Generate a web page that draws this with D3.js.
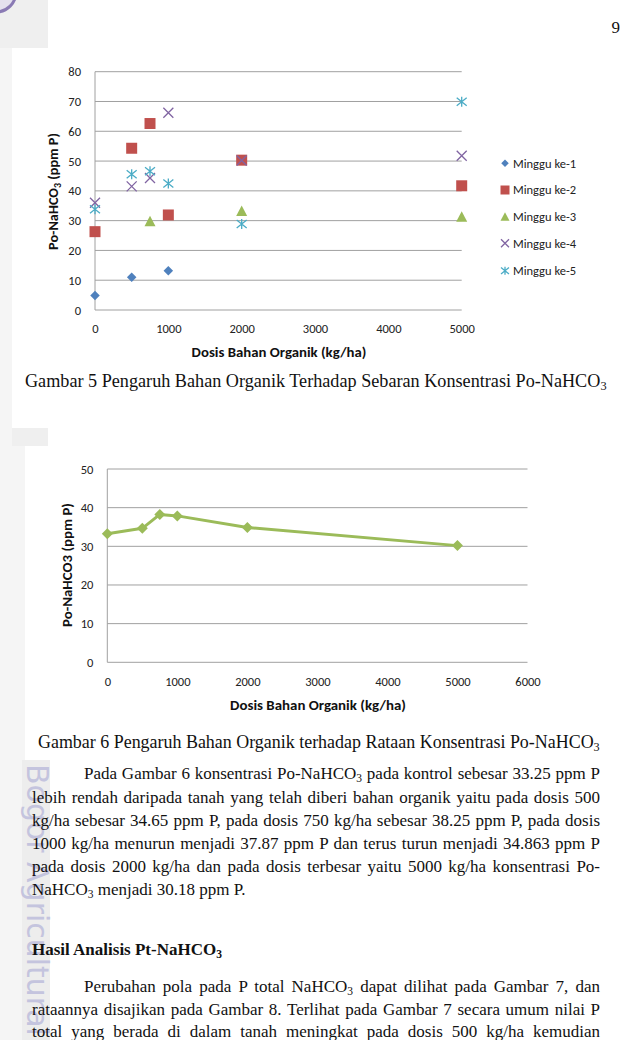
<!DOCTYPE html>
<html><head><meta charset="utf-8">
<script src="https://cdn.jsdelivr.net/npm/d3@7"></script>
<style>
body{margin:0;background:#fff;width:624px;height:1040px;position:relative;overflow:hidden}
svg{display:block;position:absolute;left:0;top:0}
.ln{position:absolute;font-family:'Liberation Serif','Times New Roman',serif;font-size:17px;line-height:17px;color:#111;white-space:nowrap}
.j{text-align:justify;text-align-last:justify;white-space:normal}
sub{font-size:11.5px;line-height:0;vertical-align:-3px}
</style>
</head><body>
<svg id="page" width="624" height="1040"></svg>
<div id="txt"></div>
<script>
// ---------------- DATA ----------------
const seriesNames = ["Minggu ke-1","Minggu ke-2","Minggu ke-3","Minggu ke-4","Minggu ke-5"];
const week1 = [[0,4.9],[500,11.0],[1000,13.2]];
const week2 = [[0,26.3],[500,54.3],[750,62.6],[1000,31.9],[2000,50.3],[5000,41.7]];
const week3 = [[750,29.8],[2000,33.2],[5000,31.3]];
const week4 = [[0,36.0],[500,41.5],[750,44.3],[1000,66.2],[2000,50.2],[5000,51.8]];
const week5 = [[0,33.8],[500,45.6],[750,46.6],[1000,42.5],[2000,28.9],[5000,69.9]];
const meanDoses = [0,500,750,1000,2000,5000];
const meanValues = [33.25,34.65,38.25,37.87,34.863,30.18];
const xTicks1 = [0,1000,2000,3000,4000,5000];
const yTicks1 = [0,10,20,30,40,50,60,70,80];
const xTicks2 = [0,1000,2000,3000,4000,5000,6000];
const yTicks2 = [0,10,20,30,40,50];

// ---------------- STYLE ----------------
const sansFont = "Carlito, Calibri, Lato, 'Open Sans', sans-serif";
const serifFont = "'Liberation Serif', 'Times New Roman', serif";
const colors = ["#4f81bd","#c0504d","#9bbb59","#8064a2","#4bacc6"];
const shapes = ["diamond","square","triangle","cross","star"];
const gridColor = "#a0a0a0";
const tickFont = 12.5;

function markerPath(type, s){
  const h = s/2;
  switch(type){
    case "diamond": return `M0,${-h}L${h},0L0,${h}L${-h},0Z`;
    case "square": return `M${-h},${-h}H${h}V${h}H${-h}Z`;
    case "triangle": return `M0,${-h}L${h},${h*0.9}L${-h},${h*0.9}Z`;
    case "cross": return `M${-h},${-h}L${h},${h}M${-h},${h}L${h},${-h}`;
    case "star": return `M${-h},${-h*0.8}L${h},${h*0.8}M${-h},${h*0.8}L${h},${-h*0.8}M0,${-h}V${h}`;
  }
}
function drawMarker(g, type, color, s){
  const p = g.append("path").attr("d", markerPath(type, s));
  if (type==="cross"||type==="star") p.attr("fill","none").attr("stroke",color).attr("stroke-width",1.3);
  else p.attr("fill",color);
  return p;
}
function fitWidth(t, target){
  const len = t.node().getComputedTextLength();
  const fs = parseFloat(t.attr("font-size"));
  t.attr("font-size", fs*target/len);
}

const svg = d3.select("#page");

// ---------------- PAGE BACKGROUND (scan artefacts) ----------------
svg.append("rect").attr("width",624).attr("height",1040).attr("fill","#fff");
svg.append("rect").attr("x",0).attr("y",0).attr("width",12).attr("height",1040).attr("fill","#f5f5f5");
svg.append("rect").attr("x",0).attr("y",0).attr("width",48).attr("height",48).attr("fill","#efefef");
svg.append("circle").attr("cx",-4).attr("cy",-8).attr("r",20).attr("fill","#e4e0ee").attr("stroke","#8a7ab4").attr("stroke-width",3);
svg.append("rect").attr("x",12).attr("y",428).attr("width",36).attr("height",18).attr("fill","#efefef");
svg.append("rect").attr("x",12).attr("y",446).attr("width",13).attr("height",594).attr("fill","#f5f5f5");
svg.append("rect").attr("x",22).attr("y",760).attr("width",28).attr("height",280).attr("fill","#ededed");
const wm = svg.append("text").attr("transform","translate(27,764) rotate(90)")
  .attr("font-family","'DejaVu Sans', sans-serif").attr("font-size",24)
  .attr("fill","#c4c4de").text("Bogor Agricultural");
fitWidth(wm, 272);

// page number
svg.append("text").attr("x",620).attr("y",33).attr("text-anchor","end")
  .attr("font-family",serifFont).attr("font-size",17).attr("fill","#111").text("9");

// ---------------- CHART 1 ----------------
const x1 = d3.scaleLinear().domain([0,5000]).range([95,461.7]);
const y1 = d3.scaleLinear().domain([0,80]).range([310,71.7]);
const c1 = svg.append("g");
c1.append("g").selectAll("line").data(yTicks1).join("line")
  .attr("x1",x1(0)).attr("x2",x1(5000)).attr("y1",d=>y1(d)).attr("y2",d=>y1(d))
  .attr("stroke",gridColor).attr("stroke-width",1);
c1.append("line").attr("x1",x1(0)).attr("x2",x1(0)).attr("y1",y1(80)).attr("y2",y1(0))
  .attr("stroke",gridColor).attr("stroke-width",1);

const ax1y = c1.append("g").attr("transform",`translate(${x1(0)},0)`)
  .call(d3.axisLeft(y1).tickValues(yTicks1).tickSize(0).tickPadding(14));
const ax1x = c1.append("g").attr("transform",`translate(0,${y1(0)})`)
  .call(d3.axisBottom(x1).tickValues(xTicks1).tickSize(0).tickFormat(d3.format("d")));
[ax1y, ax1x].forEach(a=>{a.select(".domain").remove();
  a.selectAll("text").attr("font-family",sansFont).attr("font-size",tickFont).attr("fill","#222");});
ax1x.selectAll("text").attr("y",19).attr("dy","0.35em");

const allWeeks = [week1,week2,week3,week4,week5];
allWeeks.forEach((ser,i)=>{
  const size = [9.5,11,11,10,10][i];
  const g = c1.append("g");
  ser.forEach(d=>{
    const m = g.append("g").attr("transform",`translate(${x1(d[0])},${y1(d[1])})`);
    drawMarker(m, shapes[i], colors[i], size);
  });
});

// axis titles chart 1
const t1x = c1.append("text").attr("x",279).attr("y",357).attr("text-anchor","middle")
  .attr("font-family",sansFont).attr("font-weight","bold").attr("font-size",12.5).attr("fill","#111")
  .text("Dosis Bahan Organik (kg/ha)");
fitWidth(t1x,175);
const t1y = c1.append("text").attr("transform","translate(57.5,191.5) rotate(-90)").attr("text-anchor","middle")
  .attr("font-family",sansFont).attr("font-weight","bold").attr("font-size",12.5).attr("fill","#111");
t1y.append("tspan").text("Po-NaHCO");
t1y.append("tspan").attr("font-size","0.7em").attr("dy",3).text("3");
t1y.append("tspan").attr("dy",-3).text(" (ppm P)");
fitWidth(t1y,117);

// legend
const legY = [163.3,190,216.7,243.3,270.7];
seriesNames.forEach((n,i)=>{
  const g = c1.append("g").attr("transform",`translate(505,${legY[i]})`);
  drawMarker(g, shapes[i], colors[i], [7.5,9,9,8,8][i]);
  g.append("text").attr("x",8).attr("dy","0.35em").attr("font-family",sansFont)
    .attr("font-size",tickFont).attr("fill","#222").text(n);
});

// caption 5
const cap5 = svg.append("text").attr("x",25).attr("y",387).attr("font-family",serifFont)
  .attr("font-size",17).attr("fill","#111");
cap5.append("tspan").text("Gambar 5 Pengaruh Bahan Organik Terhadap Sebaran Konsentrasi Po-NaHCO");
cap5.append("tspan").attr("font-size","0.68em").attr("dy",3).text("3");
fitWidth(cap5,582);

// ---------------- CHART 2 ----------------
const x2 = d3.scaleLinear().domain([0,6000]).range([107.3,527.5]);
const y2 = d3.scaleLinear().domain([0,50]).range([662.3,469]);
const c2 = svg.append("g");
c2.append("g").selectAll("line").data(yTicks2).join("line")
  .attr("x1",x2(0)).attr("x2",x2(6000)).attr("y1",d=>y2(d)).attr("y2",d=>y2(d))
  .attr("stroke",gridColor).attr("stroke-width",1);
c2.append("line").attr("x1",x2(0)).attr("x2",x2(0)).attr("y1",y2(50)).attr("y2",y2(0))
  .attr("stroke",gridColor).attr("stroke-width",1);
const ax2y = c2.append("g").attr("transform",`translate(${x2(0)},0)`)
  .call(d3.axisLeft(y2).tickValues(yTicks2).tickSize(0).tickPadding(14));
const ax2x = c2.append("g").attr("transform",`translate(0,${y2(0)})`)
  .call(d3.axisBottom(x2).tickValues(xTicks2).tickSize(0).tickFormat(d3.format("d")));
[ax2y, ax2x].forEach(a=>{a.select(".domain").remove();
  a.selectAll("text").attr("font-family",sansFont).attr("font-size",tickFont).attr("fill","#222");});
ax2x.selectAll("text").attr("y",19.4).attr("dy","0.35em");

const meanData = meanDoses.map((d,i)=>[d,meanValues[i]]);
c2.append("path").datum(meanData)
  .attr("d", d3.line().x(d=>x2(d[0])).y(d=>y2(d[1])))
  .attr("fill","none").attr("stroke","#9bbb59").attr("stroke-width",3).attr("stroke-linejoin","round");
meanData.forEach(d=>{
  const m = c2.append("g").attr("transform",`translate(${x2(d[0])},${y2(d[1])})`);
  drawMarker(m,"diamond","#9bbb59",11);
});

const t2x = c2.append("text").attr("x",318).attr("y",709.5).attr("text-anchor","middle")
  .attr("font-family",sansFont).attr("font-weight","bold").attr("font-size",12.5).attr("fill","#111")
  .text("Dosis Bahan Organik (kg/ha)");
fitWidth(t2x,176);
const t2y = c2.append("text").attr("transform","translate(71.5,565) rotate(-90)").attr("text-anchor","middle")
  .attr("font-family",sansFont).attr("font-weight","bold").attr("font-size",12.5).attr("fill","#111")
  .text("Po-NaHCO3 (ppm P)");
fitWidth(t2y,124);

// caption 6
const cap6 = svg.append("text").attr("x",38).attr("y",748).attr("font-family",serifFont)
  .attr("font-size",17).attr("fill","#111");
cap6.append("tspan").text("Gambar 6 Pengaruh Bahan Organik terhadap Rataan Konsentrasi Po-NaHCO");
cap6.append("tspan").attr("font-size","0.68em").attr("dy",3).text("3");
fitWidth(cap6,562);

// ---------------- BODY TEXT ----------------
const lines = [
  {y:775, x:84, w:516, j:true, h:"Pada Gambar 6 konsentrasi Po-NaHCO<sub>3</sub> pada kontrol sebesar 33.25 ppm P"},
  {y:799, x:32, w:568, j:true, h:"lebih rendah daripada tanah yang telah diberi bahan organik yaitu pada dosis 500"},
  {y:822, x:32, w:568, j:true, h:"kg/ha sebesar 34.65 ppm P, pada dosis 750 kg/ha sebesar 38.25 ppm P, pada dosis"},
  {y:845, x:32, w:568, j:true, h:"1000 kg/ha menurun menjadi 37.87 ppm P dan terus turun menjadi 34.863 ppm P"},
  {y:868, x:32, w:568, j:true, h:"pada dosis 2000 kg/ha dan pada dosis terbesar yaitu 5000 kg/ha konsentrasi Po-"},
  {y:891, x:32, w:568, j:false, h:"NaHCO<sub>3</sub> menjadi 30.18 ppm P."},
  {y:951, x:32, w:568, j:false, h:"<b>Hasil Analisis Pt-NaHCO<sub>3</sub></b>"},
  {y:988, x:84, w:516, j:true, h:"Perubahan pola pada P total NaHCO<sub>3</sub> dapat dilihat pada Gambar 7, dan"},
  {y:1011, x:32, w:568, j:true, h:"rataannya disajikan pada Gambar 8. Terlihat pada Gambar 7 secara umum nilai P"},
  {y:1033, x:32, w:568, j:true, h:"total yang berada di dalam tanah meningkat pada dosis 500 kg/ha kemudian"}
];
d3.select("#txt").selectAll("div").data(lines).join("div")
  .attr("class",d=>"ln"+(d.j?" j":""))
  .style("left",d=>d.x+"px").style("top",d=>(d.y-10)+"px").style("width",d=>d.w+"px")
  .html(d=>d.h);
</script>
</body></html>
